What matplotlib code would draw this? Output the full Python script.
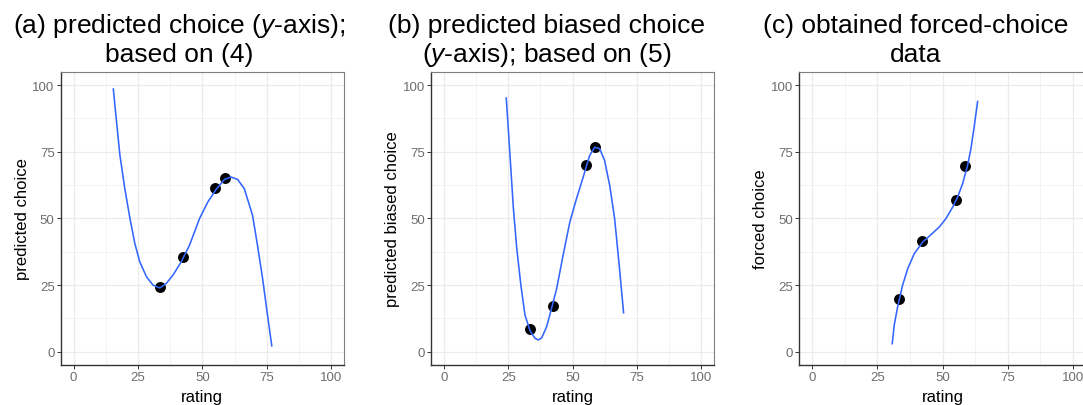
import matplotlib
matplotlib.use("Agg")
import matplotlib.pyplot as plt
from matplotlib.ticker import MultipleLocator

plt.rcParams['font.family'] = ['Liberation Sans', 'DejaVu Sans']
plt.rcParams['mathtext.fontset'] = 'custom'
plt.rcParams['mathtext.rm'] = 'Liberation Sans'
plt.rcParams['mathtext.it'] = 'Liberation Sans:italic'

# ---- data ----
rating_pts = [33.5, 42.3, 55.0, 58.7]
pred_pts = [24.2, 35.4, 61.3, 65.2]
biased_pts = [8.5, 17.2, 70.1, 76.9]
forced_pts = [19.6, 41.4, 57.0, 69.8]

curve_a_x = [15.4, 16.7, 18.0, 19.9, 21.9, 23.8, 25.7, 28.3, 30.9, 33.5, 36.0, 38.6,
             41.8, 45.0, 48.9, 52.1, 55.3, 58.6, 61.1, 63.7, 66.3, 69.5, 71.4, 73.4,
             75.3, 77.0]
curve_a_y = [98.8, 86.0, 73.6, 61.1, 49.9, 40.5, 33.7, 28.1, 24.9, 23.9, 25.6, 28.7,
             33.7, 39.9, 49.9, 56.1, 60.8, 64.6, 65.5, 64.6, 61.1, 51.1, 39.9, 27.4,
             13.7, 1.9]

curve_b_x = [24.2, 25.1, 26.0, 27.0, 28.3, 29.9, 31.5, 33.5, 35.4, 36.7, 38.0, 39.9,
             41.8, 43.8, 46.3, 48.9, 51.5, 54.1, 56.6, 58.6, 60.5, 62.4, 64.4, 66.3,
             68.2, 69.8]
curve_b_y = [95.4, 82.3, 68.6, 53.6, 38.7, 24.9, 13.7, 7.7, 5.0, 4.4, 5.2, 9.4,
             16.2, 23.7, 36.2, 48.6, 57.4, 65.5, 73.6, 76.7, 76.1, 71.7, 62.3, 49.9,
             31.2, 14.3]

curve_c_x = [30.7, 31.5, 32.8, 34.7, 36.7, 39.2, 42.4, 45.6, 48.8, 51.3, 53.9, 55.8,
             57.7, 59.6, 60.9, 62.2, 63.5]
curve_c_y = [2.7, 10.0, 16.8, 24.9, 31.2, 36.8, 41.1, 43.9, 46.8, 49.9, 54.2, 58.0,
             63.0, 69.8, 76.1, 84.8, 94.1]

ticks = [0, 25, 50, 75, 100]
tick_labels = ["0", "25", "50", "75", "100"]
x_label = "rating"
y_labels = ["predicted choice", "predicted biased choice", "forced choice"]
titles = [
    ["(a) predicted choice ($\\mathit{y}$-axis);", "based on (4)"],
    ["(b) predicted biased choice", "($\\mathit{y}$-axis); based on (5)"],
    ["(c) obtained forced-choice", "data"],
]

W, H = 1083, 406
fig = plt.figure(figsize=(W / 100, H / 100), dpi=100)
fig.patch.set_facecolor('white')

# axes boxes in pixels: left, top, width, height
boxes = [(60.7, 72.7, 283.3, 293.3), (431.0, 72.7, 283.3, 293.3), (799.0, 72.7, 287.0, 293.3)]
title_cx = [179, 547, 916]
curves = [(curve_a_x, curve_a_y, pred_pts), (curve_b_x, curve_b_y, biased_pts),
          (curve_c_x, curve_c_y, forced_pts)]

for i, (l, t, w, h) in enumerate(boxes):
    ax = fig.add_axes([l / W, (H - t - h) / H, w / W, h / H])
    ax.set_xlim(-5, 105)
    ax.set_ylim(-5, 105)
    ax.xaxis.set_minor_locator(MultipleLocator(12.5))
    ax.yaxis.set_minor_locator(MultipleLocator(12.5))
    ax.set_xticks(ticks)
    ax.set_xticklabels(tick_labels)
    ax.set_yticks(ticks)
    ax.set_yticklabels(tick_labels)
    ax.grid(which='major', color='#EBEBEB', lw=0.9, zorder=0)
    ax.grid(which='minor', color='#EFEFEF', lw=0.5, zorder=0)
    ax.set_axisbelow(True)
    ax.tick_params(which='minor', length=0)
    ax.tick_params(which='major', length=2.6, width=0.7, color='#333333',
                   labelcolor='#6E6E6E', labelsize=9.5, pad=1.8)
    for s in ['top', 'right']:
        ax.spines[s].set_color('#7F7F7F')
        ax.spines[s].set_linewidth(0.8)
    for s in ['left', 'bottom']:
        ax.spines[s].set_color('#333333')
        ax.spines[s].set_linewidth(1.0)

    cx, cy, py = curves[i]
    ax.scatter(rating_pts, py, s=62, color='black', zorder=3, linewidths=0)
    ax.plot(cx, cy, color='#3366FF', lw=1.15, zorder=4, solid_capstyle='butt',
            solid_joinstyle='round')

    ax.set_xlabel(x_label, fontsize=12, color='black')
    ax.set_ylabel(y_labels[i], fontsize=12, color='black')
    ax.xaxis.set_label_coords(0.5, -0.082)
    ax.yaxis.set_label_coords(-0.108, 0.5)

    for j, line in enumerate(titles[i]):
        fig.text(title_cx[i] / W, (H - (33 + 29 * j)) / H, line, fontsize=19,
                 ha='center', va='baseline', color='black')

fig.savefig('out.png', dpi=100, facecolor='white')
